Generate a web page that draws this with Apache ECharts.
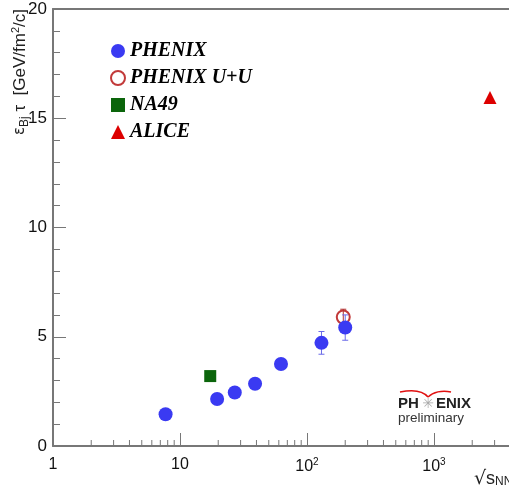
<!DOCTYPE html>
<html><head><meta charset="utf-8">
<script src="https://cdn.jsdelivr.net/npm/echarts@6/dist/echarts.min.js"></script>
<style>html,body{margin:0;padding:0;background:#fff}#c{width:509px;height:490px}</style>
</head><body><div id="c"></div>
<script>
// ---- data ----
const phenixX = [7.7, 19.6, 27, 39, 62.4, 130, 200];
const phenixY = [1.45, 2.15, 2.45, 2.85, 3.75, 4.72, 5.42];
const phenixErr = [0, 0, 0, 0, 0, 0.52, 0.58];
const uuX = [193];
const uuY = [5.9];
const uuErr = [0.36];
const na49X = [17.3];
const na49Y = [3.2];
const aliceX = [2760];
const aliceY = [15.95];
const yTickLabels = [0, 5, 10, 15, 20];
const xTickLabels = [1, 10, 100, 1000];
const xMinorTicks = [2,3,4,5,6,7,8,9,20,30,40,50,60,70,80,90,200,300,400,500,600,700,800,900,2000,3000,4000];
const seriesNames = ['PHENIX', 'PHENIX U+U', 'NA49', 'ALICE'];

const X_MIN = 1, X_MAX = 4113;

function pairs(xs, ys) { return xs.map((x, i) => [x, ys[i]]); }
function errs(xs, ys, es) {
  const out = [];
  xs.forEach((x, i) => { if (es[i] > 0) out.push([x, ys[i] - es[i], ys[i] + es[i]]); });
  return out;
}
function errRender(color) {
  return function (params, api) {
    const x = api.value(0), lo = api.value(1), hi = api.value(2);
    const a = api.coord([x, lo]), b = api.coord([x, hi]);
    const st = { stroke: color, lineWidth: 1 };
    return { type: 'group', children: [
      { type: 'line', shape: { x1: a[0], y1: a[1], x2: b[0], y2: b[1] }, style: st },
      { type: 'line', shape: { x1: a[0] - 3, y1: a[1], x2: a[0] + 3, y2: a[1] }, style: st },
      { type: 'line', shape: { x1: b[0] - 3, y1: b[1], x2: b[0] + 3, y2: b[1] }, style: st }
    ]};
  };
}

const chart = echarts.init(document.getElementById('c'), null, { renderer: 'canvas' });
const axisCol = '#777';
const supMap = { 100: '{b|10}{s|2}', 1000: '{b|10}{s|3}' };

chart.setOption({
  animation: false,
  backgroundColor: '#fff',
  grid: { left: 53, top: 9, right: -3, bottom: 44, containLabel: false, outerBoundsMode: 'none' },
  legend: {
    orient: 'vertical', left: 105, top: 36, itemGap: 7,
    itemWidth: 14, itemHeight: 14,
    data: seriesNames.map(n => ({ name: n })),
    textStyle: { fontFamily: 'Liberation Serif', fontStyle: 'italic', fontWeight: 'bold', fontSize: 20, color: '#000' },
    selectedMode: false
  },
  xAxis: [{
    type: 'log', min: X_MIN, max: X_MAX, logBase: 10,
    axisLine: { lineStyle: { color: axisCol, width: 2 } },
    axisTick: { inside: true, length: 13, lineStyle: { color: axisCol, width: 1 } },
    splitLine: { show: false },
    axisLabel: {
      margin: 11, color: '#111', fontFamily: 'Liberation Sans', fontSize: 16,
      formatter: function (v) {
        const r = Math.round(v);
        if (xTickLabels.indexOf(r) < 0 || Math.abs(v - r) > 1e-6) return '';
        if (r === 1) return '{b|1}';
        if (r === 10) return '{b|10}';
        return supMap[r];
      },
      rich: {
        b: { fontFamily: 'Liberation Sans', fontSize: 16, color: '#111' },
        s: { fontFamily: 'Liberation Sans', fontSize: 10, color: '#111', padding: [0, 0, 9, 0] }
      }
    }
  }, {
    type: 'log', min: X_MIN, max: X_MAX, position: 'top', gridIndex: 0,
    axisLine: { lineStyle: { color: axisCol, width: 2 } },
    axisTick: { show: false }, axisLabel: { show: false }, splitLine: { show: false }
  }],
  yAxis: {
    type: 'value', min: 0, max: 20, interval: 5,
    axisLine: { show: true, lineStyle: { color: axisCol, width: 2 } },
    axisTick: { show: true, inside: true, length: 13, lineStyle: { color: axisCol } },
    minorTick: { show: true, splitNumber: 5, length: 7, lineStyle: { color: axisCol } },
    splitLine: { show: false },
    axisLabel: {
      margin: 6, color: '#111', fontFamily: 'Liberation Sans', fontSize: 17,
      formatter: v => (yTickLabels.indexOf(v) >= 0 ? String(v) : '')
    }
  },
  graphic: [
    {
      type: 'text', x: 20, y: 9, rotation: Math.PI / 2,
      style: {
        text: '{e|ε}{sub|Bj}{t| τ  [GeV/fm}{sup|2}{t|/c]}',
        align: 'right', verticalAlign: 'middle',
        rich: {
          e: { fontFamily: 'DejaVu Sans', fontSize: 15, fill: '#222' },
          sub: { fontFamily: 'Liberation Sans', fontSize: 12, fill: '#222', padding: [9, 0, 0, 0] },
          t: { fontFamily: 'Liberation Sans', fontSize: 17, fill: '#222' },
          sup: { fontFamily: 'Liberation Sans', fontSize: 11, fill: '#222', padding: [0, 0, 9, 0] }
        }
      }
    },
    {
      type: 'text', x: 474, y: 479,
      style: {
        text: '{r|√}{s|s}{n|NN}', verticalAlign: 'middle',
        rich: {
          r: { fontFamily: 'DejaVu Sans', fontSize: 19, fill: '#222' },
          s: { fontFamily: 'Liberation Sans', fontSize: 18, fill: '#222' },
          n: { fontFamily: 'Liberation Sans', fontSize: 12, fill: '#222', padding: [6, 0, 0, 0] }
        }
      }
    },
    {
      type: 'group', x: 0, y: 0, silent: true,
      children: [
        { type: 'bezierCurve', shape: { x1: 400, y1: 392, x2: 428, y2: 397, cpx1: 415, cpy1: 389, cpx2: 424, cpy2: 392 }, style: { stroke: '#e01010', lineWidth: 1.5, fill: null } },
        { type: 'bezierCurve', shape: { x1: 428, y1: 397, x2: 451, y2: 392, cpx1: 433, cpy1: 392, cpx2: 442, cpy2: 390 }, style: { stroke: '#e01010', lineWidth: 1.5, fill: null } },
        { type: 'text', x: 398, y: 404, style: { text: 'PH', fontFamily: 'Liberation Sans', fontWeight: 'bold', fontSize: 15, fill: '#222', verticalAlign: 'middle' } },
        { type: 'text', x: 428, y: 404, style: { text: '✳', fontFamily: 'DejaVu Sans', fontSize: 14, fill: '#aaa', align: 'center', verticalAlign: 'middle' } },
        { type: 'text', x: 436, y: 404, style: { text: 'ENIX', fontFamily: 'Liberation Sans', fontWeight: 'bold', fontSize: 15, fill: '#222', verticalAlign: 'middle' } },
        { type: 'text', x: 398, y: 418, style: { text: 'preliminary', fontFamily: 'Liberation Sans', fontSize: 13.5, fill: '#333', verticalAlign: 'middle' } }
      ]
    }
  ],
  series: [
    {
      name: 'minorX', type: 'custom', silent: true, z: 1, clip: false,
      data: xMinorTicks.map(v => [v, 0]),
      renderItem: function (params, api) {
        const p = api.coord([api.value(0), 0]);
        return { type: 'line', shape: { x1: p[0], y1: p[1], x2: p[0], y2: p[1] - 6 }, style: { stroke: axisCol, lineWidth: 1 } };
      }
    },
    {
      name: 'PHENIX U+U', type: 'scatter', symbol: 'emptyCircle', symbolSize: 13, z: 2,
      itemStyle: { color: '#c23a3a', borderColor: '#c23a3a', borderWidth: 1, opacity: 1 },
      data: pairs(uuX, uuY)
    },
    {
      name: 'uuErr', type: 'custom', z: 3, silent: true,
      encode: { x: 0, y: [1, 2] },
      data: errs(uuX, uuY, uuErr), renderItem: errRender('#b03030')
    },
    {
      name: 'phErr', type: 'custom', z: 3, silent: true,
      encode: { x: 0, y: [1, 2] },
      data: errs(phenixX, phenixY, phenixErr), renderItem: errRender('#6a6ae8')
    },
    {
      name: 'PHENIX', type: 'scatter', symbol: 'circle', symbolSize: 14, z: 4,
      itemStyle: { color: '#3a3af2', opacity: 1 },
      data: pairs(phenixX, phenixY)
    },
    {
      name: 'NA49', type: 'scatter', symbol: 'rect', symbolSize: 12, z: 4,
      itemStyle: { color: '#0b650b', opacity: 1 },
      data: pairs(na49X, na49Y)
    },
    {
      name: 'ALICE', type: 'scatter', symbol: 'triangle', symbolSize: 13, z: 4,
      itemStyle: { color: '#dd0000', opacity: 1 },
      data: pairs(aliceX, aliceY)
    }
  ]
});
</script>
</body></html>
